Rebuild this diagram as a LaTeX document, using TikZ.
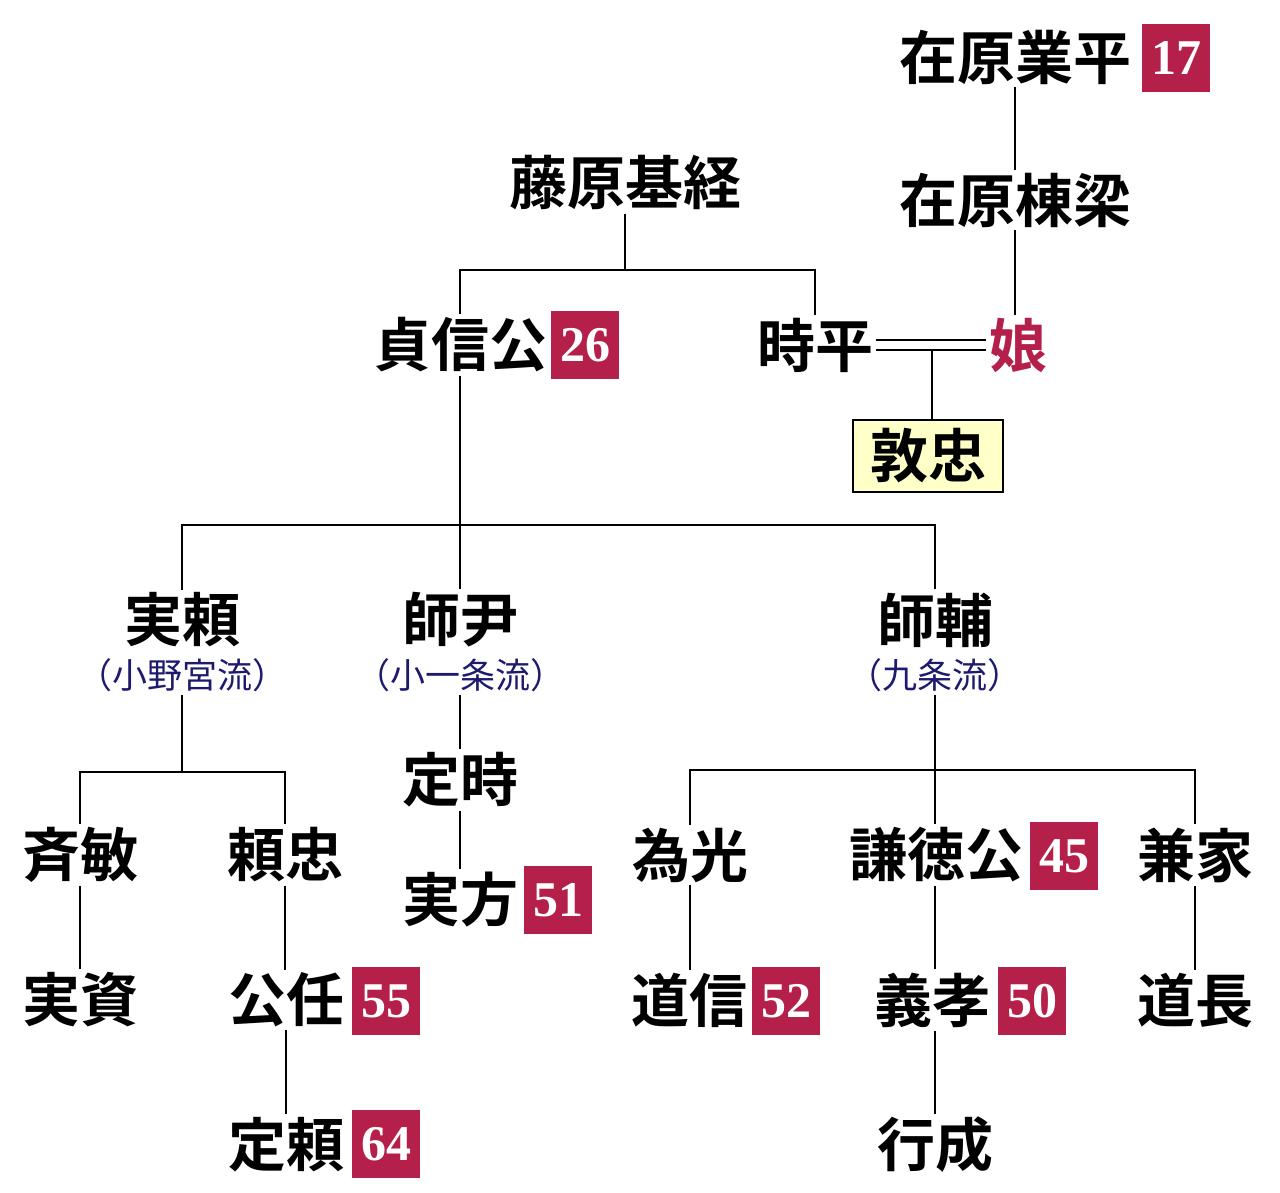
\documentclass[tikz,border=0pt]{standalone}
\usepackage{fontspec}
\newfontfamily\cjk{Noto Sans CJK JP Bold}
\newfontfamily\cjkr{Noto Sans CJK JP}
\newfontfamily\numf{Liberation Serif}
\definecolor{crim}{HTML}{B5204A}
\definecolor{navy}{HTML}{1E1A6E}
\definecolor{pale}{HTML}{FFFFC8}
\begin{document}
\begin{tikzpicture}[x=1pt,y=-1pt,
  nm/.style={font=\cjk\fontsize{58}{58}\selectfont,inner sep=3pt,anchor=center},
  rt/.style={font=\cjkr\fontsize{35}{35}\selectfont,text=navy,inner sep=3pt},
  num/.style={fill=crim,text=white,font=\numf\bfseries\fontsize{50}{50}\selectfont,minimum width=68pt,minimum height=68pt,inner sep=0pt},
  ln/.style={line width=1.8pt}]
\useasboundingbox (0,0) rectangle (1280,1193);
% names
\node[nm] (narihira) at (1015,57) {在原業平};
\node[num] (n17) at (1176,58) {17};
\node[nm] (muneyana) at (1015,200) {在原棟梁};
\node[nm] (mototsune) at (625,183) {藤原基経};
\node[nm] (teishin) at (460,345) {貞信公};
\node[num] (n26) at (585,345) {26};
\node[nm] (tokihira) at (815,345) {時平};
\node[nm,text=crim] (musume) at (1018,345) {娘};
\node[nm,draw,line width=1.8pt,fill=pale,minimum width=150pt,minimum height=72pt] (atsutada) at (928,456) {敦忠};
\node[nm] (saneyori) at (182,620) {実頼};
\node[rt] (onomiya) at (182,675) {（小野宮流）};
\node[nm] (morotada) at (460,620) {師尹};
\node[rt] (koichijo) at (460,675) {（小一条流）};
\node[nm] (morosuke) at (935,620) {師輔};
\node[rt] (kujo) at (935,675) {（九条流）};
\node[nm] (sadatoki) at (460,780) {定時};
\node[nm] (sanekata) at (460,900) {実方};
\node[num] (n51) at (558,900) {51};
\node[nm] (tadatoshi) at (80,855) {斉敏};
\node[nm] (yoritada) at (285,855) {頼忠};
\node[nm] (sanesuke) at (80,1000) {実資};
\node[nm] (kinto) at (286,1000) {公任};
\node[num] (n55) at (386,1001) {55};
\node[nm] (sadayori) at (286,1145) {定頼};
\node[num] (n64) at (386,1144) {64};
\node[nm] (tamemitsu) at (690,855) {為光};
\node[nm] (kentoku) at (936,855) {謙徳公};
\node[num] (n45) at (1064,856) {45};
\node[nm] (kaneie) at (1195,855) {兼家};
\node[nm] (michinobu) at (689,1000) {道信};
\node[num] (n52) at (786,1001) {52};
\node[nm] (yoshitaka) at (932,1000) {義孝};
\node[num] (n50) at (1032,1001) {50};
\node[nm] (michinaga) at (1195,1000) {道長};
\node[nm] (yukinari) at (935,1145) {行成};
% junctions
\coordinate (j1) at (625,270);
\coordinate (j2) at (460,525);
\coordinate (j3) at (182,772);
\coordinate (j4) at (935,770);
\coordinate (mm) at (932,350);
% connectors
\draw[ln] (narihira.south) -- (muneyana.north);
\draw[ln] (muneyana.south) -- (musume.north -| muneyana.south);
\draw[ln] (mototsune.south) -- (j1);
\draw[ln] (teishin.north) |- (j1) -| (tokihira.north);
\draw[ln] ([yshift=-5pt]tokihira.east) -- ([yshift=-5pt]musume.west);
\draw[ln] ([yshift=5pt]tokihira.east) -- ([yshift=5pt]musume.west);
\draw[ln] (mm) -- (mm |- atsutada.north);
\draw[ln] (teishin.south) -- (morotada.north);
\draw[ln] (saneyori.north) |- (j2) -| (morosuke.north);
\draw[ln] (onomiya.south) -- (j3);
\draw[ln] (tadatoshi.north) |- (j3) -| (yoritada.north);
\draw[ln] (koichijo.south) -- (sadatoki.north);
\draw[ln] (sadatoki.south) -- (sanekata.north);
\draw[ln] (kujo.south) -- (kujo.south |- kentoku.north);
\draw[ln] (tamemitsu.north) |- (j4) -| (kaneie.north);
\draw[ln] (tadatoshi.south) -- (sanesuke.north);
\draw[ln] (yoritada.south) -- (kinto.north -| yoritada.south);
\draw[ln] (kinto.south) -- (sadayori.north);
\draw[ln] (tamemitsu.south) -- (michinobu.north -| tamemitsu.south);
\draw[ln] (kentoku.south -| yukinari.north) -- (yoshitaka.north -| yukinari.north);
\draw[ln] (kaneie.south) -- (michinaga.north);
\draw[ln] (yoshitaka.south -| yukinari.north) -- (yukinari.north);
\end{tikzpicture}
\end{document}
